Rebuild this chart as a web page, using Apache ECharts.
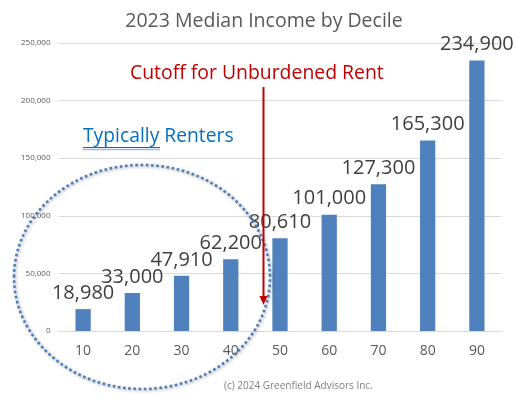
<!DOCTYPE html>
<html><head><meta charset="utf-8">
<script src="https://cdn.jsdelivr.net/npm/echarts@6/dist/echarts.min.js"></script>
<style>html,body{margin:0;padding:0;background:#fff}#c{width:516px;height:396px}</style>
</head><body><div id="c"></div>
<script>
const categories = ['10','20','30','40','50','60','70','80','90'];
const incomes = [18980, 33000, 47910, 62200, 80610, 101000, 127300, 165300, 234900];
const yTicks = [0, 50000, 100000, 150000, 200000, 250000];
const titleText = '2023 Median Income by Decile';
const cutoffText = 'Cutoff for Unburdened Rent';
const rentersText = 'Typically Renters';
const creditText = '(c) 2024 Greenfield Advisors Inc.';

const FONT = '"Open Sans", "Liberation Sans", sans-serif';
const chart = echarts.init(document.getElementById('c'), null, {renderer: 'canvas'});
const fmt = v => v.toLocaleString('en-US');
chart.setOption({
  animation: false,
  title: {
    text: titleText, left: 259, top: 6, textAlign: 'center',
    textStyle: {fontFamily: FONT, fontSize: 19.5, fontWeight: 'normal', color: '#595959'}
  },
  grid: {left: 58.5, right: 14.5, top: 43, bottom: 65, containLabel: false},
  xAxis: {
    type: 'category', data: categories,
    axisLine: {lineStyle: {color: '#d9d9d9', width: 1}},
    axisTick: {show: false},
    axisLabel: {fontFamily: FONT, fontSize: 14, color: '#595959', margin: 13}
  },
  yAxis: {
    type: 'value', min: yTicks[0], max: yTicks[yTicks.length - 1], interval: yTicks[1] - yTicks[0],
    axisLine: {show: false}, axisTick: {show: false},
    splitLine: {lineStyle: {color: '#d9d9d9', width: 1}},
    axisLabel: {fontFamily: FONT, fontSize: 8, color: '#595959', margin: 8, formatter: v => fmt(v)}
  },
  series: [{
    type: 'bar', data: incomes, barWidth: '31%',
    itemStyle: {color: '#4F81BD'},
    label: {
      show: true, position: 'top', distance: 6,
      fontFamily: FONT, fontSize: 20, color: '#404040',
      formatter: p => fmt(p.value)
    }
  }],
  graphic: [
    {type: 'ellipse', shape: {cx: 142, cy: 277, rx: 128, ry: 112}, silent: true, z: 10,
     style: {fill: 'none', stroke: '#4A7EBB', lineWidth: 2.6, lineDash: [2.6, 2.6], lineCap: 'butt',
             shadowBlur: 3, shadowColor: 'rgba(0,0,0,0.4)', shadowOffsetX: 1, shadowOffsetY: 1}},
    {type: 'text', left: 130, top: 64, z: 11,
     style: {text: cutoffText, fontFamily: FONT, fontSize: 19.4, fill: '#C00000'}},
    {type: 'line', shape: {x1: 263.5, y1: 87, x2: 263.5, y2: 298}, z: 11,
     style: {stroke: '#C00000', lineWidth: 2}},
    {type: 'polygon', shape: {points: [[259.5, 296], [267.5, 296], [263.5, 305]]}, z: 11,
     style: {fill: '#C00000'}},
    {type: 'text', left: 83, top: 127, z: 11,
     style: {text: rentersText, fontFamily: FONT, fontSize: 19.3, fill: '#0070C0'}},
    {type: 'line', shape: {x1: 83, y1: 147.5, x2: 160, y2: 147.5}, z: 11,
     style: {stroke: '#0070C0', lineWidth: 1}},
    {type: 'line', shape: {x1: 83, y1: 149.5, x2: 160, y2: 149.5}, z: 11,
     style: {stroke: '#9db8ea', lineWidth: 1.5}},
    {type: 'text', left: 224, top: 381, z: 11,
     style: {text: creditText, fontFamily: FONT, fontSize: 10, fill: '#7f7f7f'}}
  ]
});
</script></body></html>
